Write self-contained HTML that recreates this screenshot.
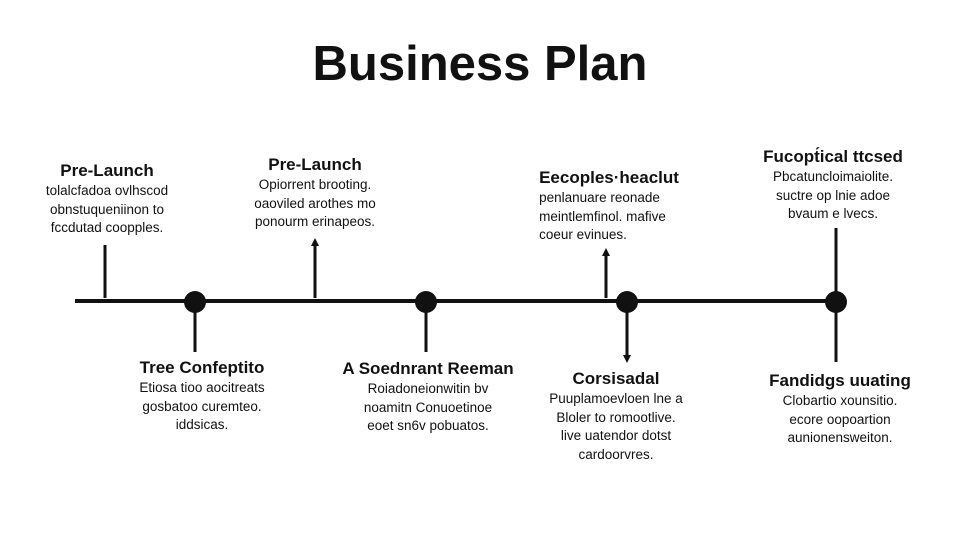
<!DOCTYPE html>
<html><head><meta charset="utf-8"><style>
body{margin:0;width:960px;height:540px;background:#fff;position:relative;overflow:hidden;font-family:"Liberation Sans",sans-serif;color:#111}
.t{position:absolute;transform:translateX(-50%);text-align:center;white-space:nowrap}
.t b{display:block;font-size:17px;line-height:20px;margin-bottom:1px}
.t span{display:block;font-size:13.5px;line-height:18.5px}
h1{position:absolute;left:0;width:960px;text-align:center;top:36px;margin:0;font-size:49px;font-weight:bold}
</style></head><body>
<h1>Business Plan</h1>
<svg width="960" height="540" style="position:absolute;left:0;top:0">
<g stroke="#111" stroke-width="3">
<line x1="75" y1="301" x2="842" y2="301" stroke-width="4"/>
<line x1="105" y1="245" x2="105" y2="298"/>
<line x1="315" y1="244" x2="315" y2="298"/>
<line x1="606" y1="254" x2="606" y2="298"/>
<line x1="836" y1="228" x2="836" y2="301"/>
<line x1="195" y1="301" x2="195" y2="352"/>
<line x1="426" y1="301" x2="426" y2="352"/>
<line x1="627" y1="301" x2="627" y2="356"/>
<line x1="836" y1="301" x2="836" y2="362"/>
</g>
<g fill="#111">
<polygon points="315,238 311,246 319,246"/>
<polygon points="606,248 602,256 610,256"/>
<polygon points="627,363 623,355 631,355"/>
<circle cx="195" cy="302" r="11"/><circle cx="426" cy="302" r="11"/>
<circle cx="627" cy="302" r="11"/><circle cx="836" cy="302" r="11"/>
</g></svg>
<div class="t" style="left:107px;top:161px"><b>Pre-Launch</b><span>tolalcfadoa ovlhscod</span><span>obnstuqueniinon to</span><span>fccdutad coopples.</span></div>
<div class="t" style="left:315px;top:155px"><b>Pre-Launch</b><span>Opiorrent brooting.</span><span>oaoviled arothes mo</span><span>ponourm erinapeos.</span></div>
<div class="t" style="left:609px;top:168px;text-align:left"><b>Eecoples·heaclut</b><span>penlanuare reonade</span><span>meintlemfinol. mafive</span><span>coeur evinues.</span></div>
<div class="t" style="left:833px;top:147px"><b>Fucopt&#x301;ical ttcsed</b><span>Pbcatuncloimaiolite.</span><span>suctre op lnie adoe</span><span>bvaum e lvecs.</span></div>
<div class="t" style="left:202px;top:358px"><b>Tree Confeptito</b><span>Etiosa tioo aocitreats</span><span>gosbatoo curemteo.</span><span>iddsicas.</span></div>
<div class="t" style="left:428px;top:359px"><b>A Soednrant Reeman</b><span>Roiadoneionwitin bv</span><span>noamitn Conuoetinoe</span><span>eoet sn6v pobuatos.</span></div>
<div class="t" style="left:616px;top:369px"><b>Corsisadal</b><span>Puuplamoevloen lne a</span><span>Bloler to romootlive.</span><span>live uatendor dotst</span><span>cardoorvres.</span></div>
<div class="t" style="left:840px;top:371px"><b>Fandidgs uuating</b><span>Clobartio xounsitio.</span><span>ecore oopoartion</span><span>aunionensweiton.</span></div>
</body></html>
